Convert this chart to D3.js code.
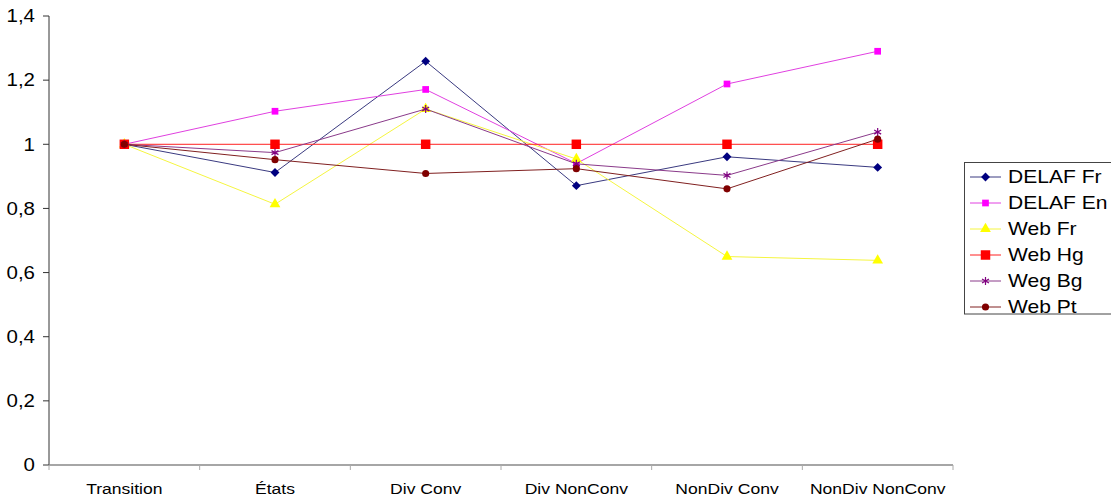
<!DOCTYPE html>
<html>
<head>
<meta charset="utf-8">
<script src="https://cdn.jsdelivr.net/npm/d3@7"></script>
<style>
  html, body { margin: 0; padding: 0; background: #fff; }
  svg { display: block; font-family: "Liberation Sans", Arial, sans-serif; }
</style>
</head>
<body>
<svg id="chart" width="1111" height="502"></svg>
<script>
const categories = ["Transition", "États", "Div Conv", "Div NonConv", "NonDiv Conv", "NonDiv NonConv"];
const seriesNames = ["DELAF Fr", "DELAF En", "Web Fr", "Web Hg", "Weg Bg", "Web Pt"];
const delafFr = [1, 0.912, 1.259, 0.871, 0.961, 0.928];
const delafEn = [1, 1.103, 1.171, 0.94, 1.188, 1.29];
const webFr   = [1, 0.813, 1.11, 0.954, 0.65, 0.638];
const webHg   = [1, 1, 1, 1, 1, 1];
const wegBg   = [1, 0.974, 1.11, 0.939, 0.903, 1.038];
const webPt   = [1, 0.952, 0.909, 0.924, 0.861, 1.016];
const yTicks  = [0, 0.2, 0.4, 0.6, 0.8, 1, 1.2, 1.4];

const seriesValues = [delafFr, delafEn, webFr, webHg, wegBg, webPt];
const colors = ["#000080", "#FF00FF", "#FFFF00", "#FF0000", "#800080", "#800000"];
const lineColors = ["#3a3a80", "#e040e0", "#f5f540", "#ff2020", "#8a3a8a", "#802020"];
const symbols = [
  {type: d3.symbolDiamond2, size: 50},
  {type: d3.symbolSquare, size: 45},
  {type: d3.symbolTriangle, size: 50},
  {type: d3.symbolSquare, size: 90},
  {type: d3.symbolAsterisk, size: 45},
  {type: d3.symbolCircle, size: 40}
];
const SX = 1.17;

const svg = d3.select("#chart");
const x = d3.scaleBand().domain(categories).range([49, 953]);
const y = d3.scaleLinear().domain([0, 1.4]).range([465, 16]);
const fr = d3.formatLocale({decimal: ",", thousands: " ", grouping: [3], currency: ["", "€"]});
const fmt = fr.format(".1~f");

// Y axis
const gy = svg.append("g");
gy.append("line").attr("x1", 49).attr("x2", 49).attr("y1", y(1.4)).attr("y2", y(0))
  .attr("stroke", "#333").attr("stroke-width", 1);
yTicks.forEach(t => {
  gy.append("line").attr("x1", 43).attr("x2", 49).attr("y1", y(t)).attr("y2", y(t))
    .attr("stroke", "#333");
  gy.append("text")
    .attr("transform", `translate(35,${y(t)}) scale(${SX},1)`)
    .attr("text-anchor", "end").attr("dy", "0.36em")
    .attr("font-size", "17.5px").attr("fill", "#000")
    .text(fmt(t));
});

// X axis
const gx = svg.append("g");
gx.append("line").attr("x1", 49).attr("x2", 953).attr("y1", y(0)).attr("y2", y(0))
  .attr("stroke", "#888").attr("stroke-width", 1.5);
const bounds = categories.map(c => x(c)).concat([x.range()[1]]);
bounds.forEach(b => {
  gx.append("line").attr("x1", b).attr("x2", b).attr("y1", y(0)).attr("y2", y(0) + 5)
    .attr("stroke", "#aaa");
});
categories.forEach(c => {
  gx.append("text")
    .attr("transform", `translate(${x(c) + x.bandwidth() / 2},494) scale(${SX},1)`)
    .attr("text-anchor", "middle")
    .attr("font-size", "15px").attr("fill", "#000")
    .text(c);
});

// Series
const line = d3.line().x((d, i) => x(categories[i]) + x.bandwidth() / 2).y(d => y(d));
seriesValues.forEach((vals, s) => {
  const g = svg.append("g");
  g.append("path").datum(vals).attr("d", line)
    .attr("fill", "none").attr("stroke", lineColors[s]).attr("stroke-width", 1);
  vals.forEach((v, i) => {
    const sym = d3.symbol().type(symbols[s].type).size(symbols[s].size);
    const p = g.append("path").attr("d", sym())
      .attr("transform", `translate(${x(categories[i]) + x.bandwidth() / 2},${y(v)})`);
    if (symbols[s].type === d3.symbolAsterisk) {
      p.attr("fill", "none").attr("stroke", colors[s]).attr("stroke-width", 1.2);
    } else {
      p.attr("fill", colors[s]).attr("stroke", "none");
    }
  });
});

// Legend
const lg = svg.append("g");
lg.append("rect").attr("x", 964.5).attr("y", 162.5).attr("width", 160).attr("height", 151.5)
  .attr("fill", "#fff").attr("stroke", "#444").attr("stroke-width", 1);
seriesNames.forEach((name, s) => {
  const ly = 177 + s * 26;
  lg.append("line").attr("x1", 970).attr("x2", 1001).attr("y1", ly).attr("y2", ly)
    .attr("stroke", lineColors[s]).attr("stroke-width", 1);
  const sym = d3.symbol().type(symbols[s].type).size(symbols[s].size);
  const p = lg.append("path").attr("d", sym()).attr("transform", `translate(985.5,${ly})`);
  if (symbols[s].type === d3.symbolAsterisk) {
    p.attr("fill", "none").attr("stroke", colors[s]).attr("stroke-width", 1.2);
  } else {
    p.attr("fill", colors[s]);
  }
  lg.append("text")
    .attr("transform", `translate(1008,${ly}) scale(${SX},1)`)
    .attr("dy", "0.36em").attr("font-size", "18px").attr("fill", "#000")
    .text(name);
});
</script>
</body>
</html>
